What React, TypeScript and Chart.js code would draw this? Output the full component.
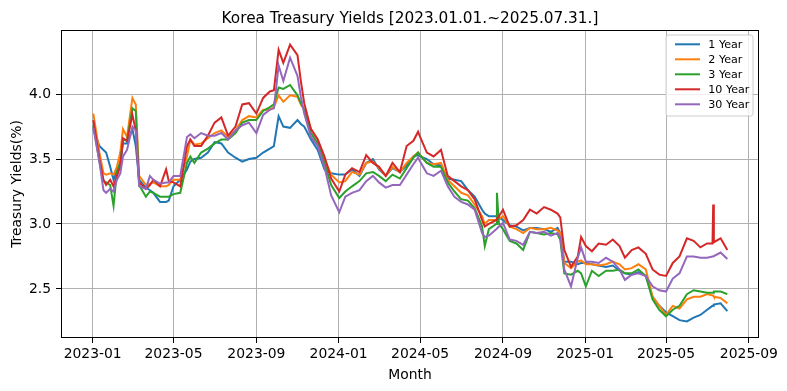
import React, { useEffect, useRef } from "react";
import { Chart, registerables } from "chart.js";

Chart.register(...registerables);

const titleText = "Korea Treasury Yields [2023.01.01.~2025.07.31.]";
const xTitle = "Month";
const yTitle = "Treasury Yields(%)";

const seriesLabels = ["1 Year", "2 Year", "3 Year", "10 Year", "30 Year"];
const seriesColors = ["#1f77b4", "#ff7f0e", "#2ca02c", "#d62728", "#9467bd"];

const xTickLabels = ["2023-01", "2023-05", "2023-09", "2024-01", "2024-05", "2024-09", "2025-01", "2025-05", "2025-09"];
const yTicks = [2.5, 3.0, 3.5, 4.0];

const dates = [
  "2023-01-02", "2023-01-11", "2023-01-17", "2023-01-21", "2023-01-27", "2023-02-01", "2023-02-06", "2023-02-11",
  "2023-02-15", "2023-02-21", "2023-03-01", "2023-03-06", "2023-03-11", "2023-03-21", "2023-03-27", "2023-04-01",
  "2023-04-11", "2023-04-20", "2023-04-24", "2023-05-01", "2023-05-11", "2023-05-21", "2023-05-26", "2023-06-01",
  "2023-06-11", "2023-06-21", "2023-07-01", "2023-07-11", "2023-07-21", "2023-08-01", "2023-08-11", "2023-08-21",
  "2023-09-01", "2023-09-11", "2023-09-21", "2023-09-27", "2023-10-04", "2023-10-11", "2023-10-21", "2023-11-01",
  "2023-11-06", "2023-11-11", "2023-11-21", "2023-12-01", "2023-12-11", "2023-12-21", "2024-01-02", "2024-01-11",
  "2024-01-21", "2024-02-01", "2024-02-11", "2024-02-21", "2024-03-01", "2024-03-11", "2024-03-21", "2024-04-01",
  "2024-04-11", "2024-04-21", "2024-04-28", "2024-05-01", "2024-05-11", "2024-05-21", "2024-06-01", "2024-06-11",
  "2024-06-21", "2024-07-01", "2024-07-11", "2024-07-21", "2024-08-01", "2024-08-05", "2024-08-11", "2024-08-22",
  "2024-08-23", "2024-08-26", "2024-09-01", "2024-09-11", "2024-09-21", "2024-10-01", "2024-10-11", "2024-10-21",
  "2024-11-01", "2024-11-11", "2024-11-21", "2024-11-25", "2024-12-01", "2024-12-11", "2024-12-21", "2024-12-26",
  "2025-01-02", "2025-01-11", "2025-01-21", "2025-02-01", "2025-02-11", "2025-02-21", "2025-03-01", "2025-03-11",
  "2025-03-21", "2025-04-01", "2025-04-11", "2025-04-21", "2025-05-01", "2025-05-11", "2025-05-21", "2025-06-01",
  "2025-06-11", "2025-06-21", "2025-07-01", "2025-07-09", "2025-07-10", "2025-07-11", "2025-07-21", "2025-07-31",
];

const yield1 = [
  3.73, 3.60, 3.57, 3.55, 3.44, 3.34, 3.42, 3.47, 3.62, 3.62, 3.73, 3.60, 3.34, 3.28, 3.26, 3.24,
  3.17, 3.17, 3.18, 3.29, 3.34, 3.42, 3.48, 3.50, 3.51, 3.55, 3.63, 3.62, 3.55, 3.51, 3.48, 3.50,
  3.51, 3.55, 3.58, 3.60, 3.83, 3.75, 3.74, 3.80, 3.77, 3.75, 3.65, 3.57, 3.42, 3.39, 3.38, 3.38,
  3.42, 3.37, 3.47, 3.50, 3.42, 3.37, 3.43, 3.40, 3.45, 3.52, 3.53, 3.52, 3.50, 3.46, 3.45, 3.35,
  3.34, 3.33, 3.26, 3.21, 3.11, 3.08, 3.06, 3.06, 3.06, 3.05, 3.03, 2.99, 2.98, 2.95, 2.97, 2.97,
  2.96, 2.94, 2.97, 2.93, 2.71, 2.71, 2.69, 2.70, 2.70, 2.69, 2.68, 2.67, 2.68, 2.64, 2.62, 2.61,
  2.63, 2.60, 2.44, 2.37, 2.32, 2.29, 2.26, 2.25, 2.28, 2.30, 2.34, 2.37, 2.37, 2.38, 2.39, 2.33,
];

const yield2 = [
  3.85, 3.55, 3.39, 3.38, 3.39, 3.38, 3.44, 3.55, 3.73, 3.67, 3.97, 3.92, 3.37, 3.30, 3.31, 3.32,
  3.29, 3.29, 3.30, 3.34, 3.34, 3.52, 3.65, 3.61, 3.62, 3.66, 3.70, 3.72, 3.67, 3.72, 3.80, 3.83,
  3.82, 3.88, 3.88, 3.90, 3.99, 3.94, 3.99, 3.98, 3.92, 3.88, 3.73, 3.65, 3.50, 3.38, 3.32, 3.33,
  3.40, 3.38, 3.47, 3.48, 3.43, 3.37, 3.44, 3.40, 3.47, 3.52, 3.55, 3.53, 3.47, 3.46, 3.47, 3.34,
  3.29, 3.24, 3.22, 3.15, 3.06, 3.00, 3.03, 3.03, 3.03, 3.04, 3.06, 2.98, 2.96, 2.93, 2.97, 2.96,
  2.96, 2.97, 2.95, 2.93, 2.70, 2.66, 2.71, 2.72, 2.69, 2.69, 2.68, 2.69, 2.71, 2.69, 2.65, 2.66,
  2.69, 2.65, 2.44, 2.37, 2.30, 2.37, 2.35, 2.42, 2.44, 2.44, 2.46, 2.45, 2.45, 2.44, 2.43, 2.39,
];

const yield3 = [
  3.76, 3.48, 3.33, 3.32, 3.30, 3.14, 3.40, 3.47, 3.65, 3.64, 3.89, 3.87, 3.30, 3.21, 3.25, 3.24,
  3.21, 3.21, 3.21, 3.23, 3.24, 3.47, 3.52, 3.47, 3.55, 3.58, 3.62, 3.65, 3.65, 3.70, 3.78, 3.80,
  3.80, 3.87, 3.90, 3.92, 4.05, 4.04, 4.07, 3.99, 3.93, 3.88, 3.70, 3.62, 3.47, 3.30, 3.20, 3.25,
  3.29, 3.33, 3.39, 3.40, 3.37, 3.33, 3.38, 3.35, 3.43, 3.51, 3.55, 3.53, 3.47, 3.44, 3.44, 3.32,
  3.25, 3.19, 3.18, 3.12, 2.98, 2.83, 2.96, 3.00, 3.24, 3.00, 2.96, 2.87, 2.85, 2.80, 2.94, 2.93,
  2.92, 2.93, 2.92, 2.88, 2.62, 2.61, 2.64, 2.62, 2.52, 2.64, 2.60, 2.64, 2.64, 2.65, 2.62, 2.62,
  2.65, 2.60, 2.42, 2.34, 2.29, 2.34, 2.37, 2.46, 2.49, 2.48, 2.47, 2.47, 2.47, 2.48, 2.48, 2.46,
];

const yield10 = [
  3.80, 3.50, 3.34, 3.30, 3.34, 3.29, 3.37, 3.44, 3.66, 3.64, 3.84, 3.72, 3.32, 3.27, 3.30, 3.34,
  3.29, 3.42, 3.33, 3.32, 3.29, 3.60, 3.65, 3.60, 3.60, 3.68, 3.78, 3.82, 3.68, 3.75, 3.92, 3.93,
  3.85, 3.97, 4.02, 4.03, 4.34, 4.24, 4.38, 4.30, 4.10, 3.93, 3.73, 3.65, 3.52, 3.35, 3.25, 3.38,
  3.43, 3.40, 3.53, 3.47, 3.44, 3.37, 3.47, 3.40, 3.60, 3.64, 3.71, 3.67, 3.55, 3.52, 3.57, 3.37,
  3.33, 3.29, 3.26, 3.19, 3.03, 2.98, 3.00, 3.03, 3.04, 3.06, 3.11, 2.98, 2.99, 3.03, 3.11, 3.08,
  3.13, 3.11, 3.08, 3.05, 2.80, 2.67, 2.75, 2.90, 2.83, 2.79, 2.85, 2.84, 2.88, 2.83, 2.74, 2.80,
  2.82, 2.77, 2.65, 2.61, 2.60, 2.70, 2.75, 2.89, 2.87, 2.82, 2.85, 2.85, 3.15, 2.86, 2.89, 2.80,
];

const yield30 = [
  3.74, 3.48, 3.26, 3.24, 3.27, 3.25, 3.34, 3.39, 3.52, 3.57, 3.75, 3.72, 3.29, 3.27, 3.37, 3.34,
  3.31, 3.32, 3.32, 3.37, 3.37, 3.67, 3.69, 3.66, 3.70, 3.68, 3.68, 3.70, 3.65, 3.72, 3.76, 3.78,
  3.70, 3.84, 3.88, 3.89, 4.22, 4.10, 4.28, 4.14, 3.98, 3.85, 3.67, 3.60, 3.44, 3.22, 3.09, 3.21,
  3.24, 3.26, 3.33, 3.37, 3.32, 3.28, 3.30, 3.30, 3.38, 3.46, 3.51, 3.48, 3.39, 3.37, 3.41, 3.29,
  3.21, 3.17, 3.15, 3.11, 2.93, 2.90, 2.91, 2.96, 2.96, 2.98, 3.01, 2.88, 2.87, 2.84, 2.94, 2.93,
  2.94, 2.91, 2.93, 2.90, 2.65, 2.52, 2.74, 2.82, 2.71, 2.71, 2.70, 2.74, 2.71, 2.65, 2.57, 2.61,
  2.62, 2.60, 2.52, 2.49, 2.48, 2.58, 2.62, 2.75, 2.75, 2.74, 2.74, 2.75, 2.75, 2.75, 2.78, 2.73,
];

const seriesValues = [yield1, yield2, yield3, yield10, yield30];

const FONT = "'DejaVu Sans', 'Liberation Sans', sans-serif";
const ORIGIN = Date.UTC(2023, 0, 1);
const DAY_MS = 86400000;
const toDay = (s: string) => {
  const [y, m, d] = s.split("-").map(Number);
  return (Date.UTC(y, m - 1, d || 1) - ORIGIN) / DAY_MS;
};

const decorPlugin = {
  id: "decor",
  beforeDraw(chart: any) {
    const { ctx, width, height } = chart;
    ctx.save();
    ctx.fillStyle = "#ffffff";
    ctx.fillRect(0, 0, width, height);
    ctx.restore();
  },
  afterDatasetsDraw(chart: any) {
    const { ctx, chartArea } = chart;
    const { left, top, right, bottom } = chartArea;
    ctx.save();
    // frame (spines)
    ctx.strokeStyle = "#000000";
    ctx.lineWidth = 1;
    ctx.strokeRect(Math.round(left) + 0.5, Math.round(top) + 0.5, Math.round(right - left) - 1, Math.round(bottom - top) - 1);

    // legend
    const lx0 = 666, ly0 = 35, lx1 = 753, ly1 = 116, r = 2.5;
    ctx.beginPath();
    ctx.moveTo(lx0 + r, ly0);
    ctx.lineTo(lx1 - r, ly0);
    ctx.quadraticCurveTo(lx1, ly0, lx1, ly0 + r);
    ctx.lineTo(lx1, ly1 - r);
    ctx.quadraticCurveTo(lx1, ly1, lx1 - r, ly1);
    ctx.lineTo(lx0 + r, ly1);
    ctx.quadraticCurveTo(lx0, ly1, lx0, ly1 - r);
    ctx.lineTo(lx0, ly0 + r);
    ctx.quadraticCurveTo(lx0, ly0, lx0 + r, ly0);
    ctx.closePath();
    ctx.fillStyle = "rgba(255,255,255,0.8)";
    ctx.fill();
    ctx.strokeStyle = "#cccccc";
    ctx.lineWidth = 1;
    ctx.stroke();

    ctx.font = `11.1px ${FONT}`;
    ctx.textAlign = "left";
    ctx.textBaseline = "alphabetic";
    seriesLabels.forEach((lab, i) => {
      const cy = 44.3 + i * 15;
      ctx.beginPath();
      ctx.moveTo(675, cy);
      ctx.lineTo(700, cy);
      ctx.strokeStyle = seriesColors[i];
      ctx.lineWidth = 2;
      ctx.stroke();
      ctx.fillStyle = "#000000";
      ctx.fillText(lab, 708.3, cy + 4);
    });
    ctx.restore();
  },
  afterDraw(chart: any) {
    const { ctx, chartArea } = chart;
    const cx = (chartArea.left + chartArea.right) / 2;
    const cy = (chartArea.top + chartArea.bottom) / 2;
    ctx.save();
    ctx.fillStyle = "#000000";
    ctx.textAlign = "center";
    ctx.textBaseline = "alphabetic";
    ctx.font = `15.3px ${FONT}`;
    ctx.fillText(titleText, cx, 22.5);
    ctx.font = `13.9px ${FONT}`;
    ctx.fillText(xTitle, cx, 379);
    ctx.translate(20.5, cy);
    ctx.rotate(-Math.PI / 2);
    ctx.fillText(yTitle, 0, 0);
    ctx.restore();
  },
};

export default function App() {
  const canvasRef = useRef<HTMLCanvasElement | null>(null);

  useEffect(() => {
    const canvas = canvasRef.current;
    if (!canvas) return;
    const xTickValues = xTickLabels.map(toDay);
    const dayValues = dates.map(toDay);

    const datasets = seriesLabels.map((label, i) => ({
      label,
      data: dayValues.map((d, j) => ({ x: d, y: seriesValues[i][j] })),
      borderColor: seriesColors[i],
      backgroundColor: seriesColors[i],
      borderWidth: 2,
      pointRadius: 0,
      tension: 0,
      fill: false,
      order: seriesLabels.length - i,
    }));

    const chart = new Chart(canvas, {
      type: "line",
      data: { datasets },
      options: {
        animation: false,
        responsive: false,
        maintainAspectRatio: false,
        devicePixelRatio: 1,
        layout: { padding: { top: 30, right: 28, bottom: 0, left: 0 } },
        plugins: {
          legend: { display: false },
          title: { display: false },
          tooltip: { enabled: false },
        },
        scales: {
          x: {
            type: "linear",
            min: -47,
            max: 989,
            afterBuildTicks: (scale: any) => {
              scale.ticks = xTickValues.map((v) => ({ value: v }));
            },
            afterFit: (scale: any) => {
              scale.height = 53;
            },
            ticks: {
              autoSkip: false,
              maxRotation: 0,
              minRotation: 0,
              padding: 3,
              color: "#000000",
              font: { family: FONT, size: 13.9 },
              callback: (_v: any, idx: number) => xTickLabels[idx],
            },
            grid: { color: "#b0b0b0", lineWidth: 1, tickColor: "#000000", tickLength: 5, tickWidth: 1 },
            border: { display: false },
          },
          y: {
            type: "linear",
            min: 2.1225,
            max: 4.493,
            afterBuildTicks: (scale: any) => {
              scale.ticks = yTicks.map((v) => ({ value: v }));
            },
            afterFit: (scale: any) => {
              scale.width = 61;
            },
            ticks: {
              padding: 5,
              color: "#000000",
              font: { family: FONT, size: 13.9 },
              callback: (v: any) => Number(v).toFixed(1),
            },
            grid: { color: "#b0b0b0", lineWidth: 1, tickColor: "#000000", tickLength: 5, tickWidth: 1 },
            border: { display: false },
          },
        },
      },
      plugins: [decorPlugin],
    } as any);

    return () => chart.destroy();
  }, []);

  return (
    <div style={{ position: "fixed", left: 0, top: 0, width: 787, height: 391, background: "#ffffff" }}>
      <canvas ref={canvasRef} width={787} height={391} style={{ width: 787, height: 391, display: "block" }} />
    </div>
  );
}
